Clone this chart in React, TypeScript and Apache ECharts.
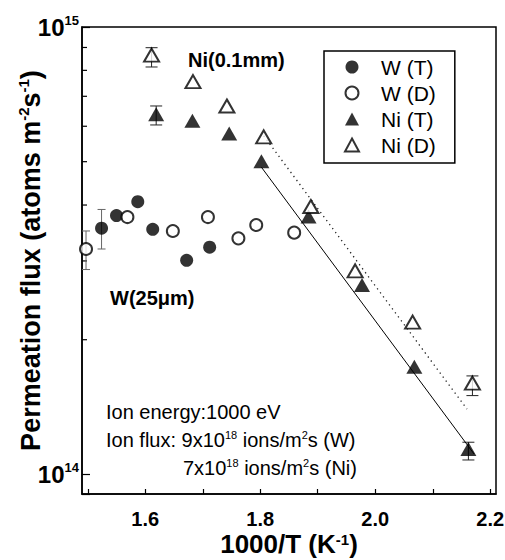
import React, { useEffect, useRef } from 'react';
import * as echarts from 'echarts';

const FONT = '"Liberation Sans", Arial, Helvetica, sans-serif';

// axis ranges
const X_MIN = 1.49;
const X_MAX = 2.21;
const Y_MIN = 9.04e13;
const Y_MAX = 1e15;

// tick values
const xTickValues = [1.5, 1.6, 1.7, 1.8, 1.9, 2.0, 2.1, 2.2];
const xLabelValues = [1.6, 1.8, 2.0, 2.2];
const yMinorTickValues = [2e14, 3e14, 4e14, 5e14, 6e14, 7e14, 8e14, 9e14];

// series names
const seriesNames = ['W (T)', 'W (D)', 'Ni (T)', 'Ni (D)'];

// W (T)
const wT_x = [1.524, 1.550, 1.587, 1.613, 1.672, 1.712];
const wT_y = [3.55e14, 3.79e14, 4.07e14, 3.53e14, 3.01e14, 3.22e14];

// W (D)
const wD_x = [1.497, 1.569, 1.648, 1.709, 1.762, 1.793, 1.859];
const wD_y = [3.19e14, 3.76e14, 3.50e14, 3.76e14, 3.37e14, 3.61e14, 3.47e14];

// Ni (T)
const niT_x = [1.619, 1.682, 1.746, 1.802, 1.884, 1.977, 2.068, 2.162];
const niT_y = [6.38e14, 6.17e14, 5.78e14, 5.01e14, 3.77e14, 2.65e14, 1.74e14, 1.14e14];

// Ni (D)
const niD_x = [1.611, 1.683, 1.742, 1.806, 1.888, 1.965, 2.065, 2.169];
const niD_y = [8.65e14, 7.55e14, 6.66e14, 5.68e14, 3.97e14, 2.85e14, 2.19e14, 1.60e14];

// error bars: [x, low, high]
const errW = [
  [1.524, 3.19e14, 3.91e14],
  [1.497, 2.87e14, 3.50e14],
];
const errNi = [
  [1.619, 6.04e14, 6.66e14],
  [2.162, 1.077e14, 1.18e14],
  [1.611, 8.14e14, 8.99e14],
  [2.169, 1.50e14, 1.66e14],
];

// fit lines (exponential fits, straight on log axis)
const fitNiT = [[1.802, 4.86e14], [2.172, 1.11e14]];
const fitNiD = [[1.806, 5.71e14], [2.1595, 1.40e14]];

const zip = (xs: number[], ys: number[]) => xs.map((x, i) => [x, ys[i]]);

function errorBarRender(cap: number, color: string) {
  return (params: any, api: any) => {
    const x = api.value(0);
    const lo = api.coord([x, api.value(1)]);
    const hi = api.coord([x, api.value(2)]);
    const style = { stroke: color, lineWidth: 1 };
    return {
      type: 'group',
      children: [
        { type: 'line', shape: { x1: lo[0], y1: lo[1], x2: hi[0], y2: hi[1] }, style },
        { type: 'line', shape: { x1: hi[0] - cap / 2, y1: hi[1], x2: hi[0] + cap / 2, y2: hi[1] }, style },
        { type: 'line', shape: { x1: lo[0] - cap / 2, y1: lo[1], x2: lo[0] + cap / 2, y2: lo[1] }, style },
      ],
    };
  };
}

const supStyle = (size: number, bold: boolean) => ({
  fontSize: size,
  fontFamily: FONT,
  fontWeight: bold ? 'bold' : 'normal',
  color: '#000',
  verticalAlign: 'top',
  lineHeight: size,
});

export default function App() {
  const ref = useRef<HTMLDivElement>(null);

  useEffect(() => {
    document.body.style.margin = '0';
    if (!ref.current) return;
    const chart = echarts.init(ref.current, null, { renderer: 'svg' });

    const openStyle = { color: '#fff', borderColor: '#000', borderWidth: 2 };
    const filledStyle = { color: '#000' };

    chart.setOption({
      animation: false,
      backgroundColor: '#fff',
      grid: {
        left: 82,
        top: 27,
        right: 9,
        bottom: 66,
        show: true,
        borderColor: '#000',
        borderWidth: 1.5,
        containLabel: false,
        outerBoundsMode: 'none',
      },
      xAxis: {
        type: 'value',
        min: X_MIN,
        max: X_MAX,
        name: '1000/T (K{sup|-1})',
        nameLocation: 'middle',
        nameGap: 38,
        nameMoveOverlap: false,
        nameTextStyle: {
          fontSize: 26,
          fontFamily: FONT,
          fontWeight: 'bold',
          color: '#000',
          lineHeight: 24,
          rich: { sup: supStyle(15, true) },
        },
        axisLine: { lineStyle: { color: '#000', width: 1.5 } },
        axisTick: { inside: true, length: 5, customValues: xTickValues, lineStyle: { color: '#000', width: 1.2 } },
        axisLabel: {
          customValues: xLabelValues,
          formatter: (v: number) => v.toFixed(1),
          fontSize: 20,
          fontFamily: FONT,
          fontWeight: 'bold',
          color: '#000',
          lineHeight: 18,
          margin: 16,
        },
        splitLine: { show: false },
      },
      yAxis: {
        type: 'log',
        logBase: 10,
        min: Y_MIN,
        max: Y_MAX,
        name: 'Permeation flux (atoms m{sup|-2}s{sup|-1})',
        nameLocation: 'middle',
        nameRotate: 90,
        nameGap: 36,
        nameMoveOverlap: false,
        nameTextStyle: {
          fontSize: 27,
          fontFamily: FONT,
          fontWeight: 'bold',
          color: '#000',
          lineHeight: 30,
          rich: { sup: supStyle(15, true) },
        },
        axisLine: { lineStyle: { color: '#000', width: 1.5 } },
        axisTick: { inside: true, length: 8, lineStyle: { color: '#000', width: 1.2 } },
        axisLabel: {
          formatter: (v: number) => {
            const l = Math.log10(v);
            const r = Math.round(l);
            return Math.abs(l - r) < 1e-6 ? `10{sup|${r}}` : '';
          },
          fontSize: 24,
          fontFamily: FONT,
          fontWeight: 'bold',
          color: '#000',
          lineHeight: 26,
          margin: 3,
          rich: { sup: supStyle(13, true) },
        },
        splitLine: { show: false },
        minorTick: { show: false },
      },
      legend: {
        orient: 'vertical',
        left: 324,
        top: 51,
        data: seriesNames,
        itemWidth: 14,
        itemHeight: 13,
        itemGap: 2,
        padding: [4, 19, 6, 20],
        borderColor: '#000',
        borderWidth: 1.5,
        selectedMode: false,
        textStyle: { fontSize: 21, fontFamily: FONT, color: '#000', lineHeight: 24, padding: [0, 0, 0, 17] },
      },
      graphic: [
        {
          type: 'text', x: 188, y: 60, silent: true,
          style: { text: 'Ni(0.1mm)', fill: '#000', fontSize: 20, fontWeight: 'bold', fontFamily: FONT, verticalAlign: 'middle' },
        },
        {
          type: 'text', x: 110, y: 298, silent: true,
          style: { text: 'W(25\u03bcm)', fill: '#000', fontSize: 20, fontWeight: 'bold', fontFamily: FONT, verticalAlign: 'middle' },
        },
        {
          type: 'text', x: 106, y: 412, silent: true,
          style: { text: 'Ion energy:1000 eV', fill: '#000', fontSize: 20, fontFamily: FONT, verticalAlign: 'middle' },
        },
        {
          type: 'text', x: 106, y: 440, silent: true,
          style: {
            text: 'Ion flux: 9x10{sup|18} ions/m{sup|2}s (W)', fill: '#000', fontSize: 20, fontFamily: FONT,
            verticalAlign: 'middle', lineHeight: 22, rich: { sup: { ...supStyle(11, false), fill: '#000' } },
          },
        },
        {
          type: 'text', x: 183, y: 468, silent: true,
          style: {
            text: '7x10{sup|18} ions/m{sup|2}s (Ni)', fill: '#000', fontSize: 20, fontFamily: FONT,
            verticalAlign: 'middle', lineHeight: 22, rich: { sup: { ...supStyle(11, false), fill: '#000' } },
          },
        },
      ],
      series: [
        {
          type: 'custom',
          name: 'yMinorTicks',
          silent: true,
          renderItem: (params: any, api: any) => {
            const p = api.coord([api.value(0), api.value(1)]);
            return {
              type: 'line',
              shape: { x1: p[0], y1: p[1], x2: p[0] + 5, y2: p[1] },
              style: { stroke: '#000', lineWidth: 1.2 },
            };
          },
          data: yMinorTickValues.map((v) => [X_MIN, v]),
          z: 1,
        },
        {
          type: 'custom',
          name: 'errW',
          silent: true,
          renderItem: errorBarRender(8, '#666'),
          encode: { x: 0, y: 1 },
          data: errW,
          z: 1,
        },
        {
          type: 'custom',
          name: 'errNi',
          silent: true,
          renderItem: errorBarRender(12, '#222'),
          encode: { x: 0, y: 1 },
          data: errNi,
          z: 1,
        },
        {
          type: 'line',
          name: 'fitNiT',
          data: fitNiT,
          showSymbol: false,
          silent: true,
          lineStyle: { color: '#000', width: 1 },
          z: 2,
        },
        {
          type: 'line',
          name: 'fitNiD',
          data: fitNiD,
          showSymbol: false,
          silent: true,
          lineStyle: { color: '#222', width: 1.3, type: [1.3, 3.7] },
          z: 2,
        },
        {
          type: 'scatter', name: seriesNames[0], data: zip(wT_x, wT_y),
          symbol: 'circle', symbolSize: 13, itemStyle: filledStyle, z: 3,
        },
        {
          type: 'scatter', name: seriesNames[1], data: zip(wD_x, wD_y),
          symbol: 'circle', symbolSize: 12, itemStyle: openStyle, z: 3,
        },
        {
          type: 'scatter', name: seriesNames[2], data: zip(niT_x, niT_y),
          symbol: 'triangle', symbolSize: [16, 14], itemStyle: filledStyle, z: 3,
        },
        {
          type: 'scatter', name: seriesNames[3], data: zip(niD_x, niD_y),
          symbol: 'triangle', symbolSize: [15, 13], itemStyle: { ...openStyle, borderWidth: 2 }, z: 3,
        },
      ],
    });

    return () => chart.dispose();
  }, []);

  return <div ref={ref} style={{ width: 505, height: 560 }} />;
}
